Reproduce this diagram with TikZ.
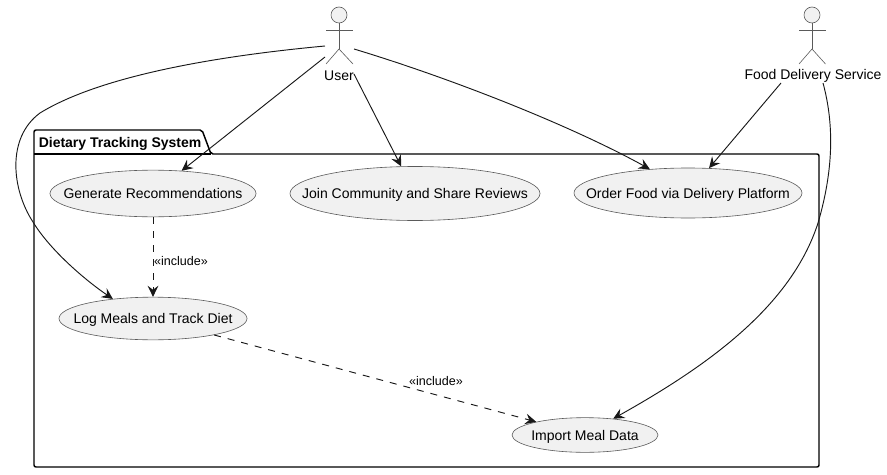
\documentclass[tikz,border=0pt]{standalone}
\usepackage{fontspec}
\setmainfont{Liberation Sans}
\usetikzlibrary{shapes.geometric,arrows.meta}
\definecolor{ink}{HTML}{181818}
\definecolor{thin}{HTML}{5A5A5A}
\definecolor{bubble}{HTML}{F1F1F1}
\newcommand{\uclabel}[1]{\makebox[0pt][c]{\rule[-3pt]{0pt}{13.5pt}#1}}
\tikzset{
  usecase/.style={ellipse,draw=thin,fill=bubble,line width=0.45pt,inner sep=0pt,font=\fontsize{10.5}{12}\selectfont},
  actorhead/.style={circle,draw=thin,fill=bubble,line width=0.45pt,inner sep=0pt,minimum size=12pt},
  actorline/.style={draw=thin,line width=0.45pt},
  actorname/.style={inner sep=0pt,font=\fontsize{10.5}{12}\selectfont},
  conn/.style={draw=ink,line width=0.7pt,-{Stealth[length=8.3pt,width=8pt,inset=3pt]}},
  incl/.style={conn,dash pattern=on 5.25pt off 5.25pt},
  incllabel/.style={inner sep=0pt,font=\fontsize{9.4}{11}\selectfont},
  frameline/.style={draw=black,line width=1.1pt,line join=round},
}
\begin{document}
\begin{tikzpicture}[x=0.75pt,y=-0.75pt]
\useasboundingbox (0,0) rectangle (887,474);
% package
\draw[frameline,fill=white,rounded corners=1.5pt] (34,154) -- (34,130) -- (202,130) -- (211,154) -- (819,154) -- (819,467) -- (34,467) -- cycle;
\draw[frameline] (34,154) -- (211,154);
\node[anchor=base west,inner sep=0pt,font=\fontsize{10.5}{12}\selectfont\bfseries] (pkg) at (38.5,147) {Dietary Tracking System};
% use cases
\node[usecase,minimum width=154.5pt,minimum height=35pt] (gen) at (153,193.5) {\uclabel{Generate Recommendations}};
\node[usecase,minimum width=187.5pt,minimum height=40.5pt] (join) at (415,193.5) {\uclabel{Join Community and Share Reviews}};
\node[usecase,minimum width=171pt,minimum height=37.5pt] (order) at (688,193) {\uclabel{Order Food via Delivery Platform}};
\node[usecase,minimum width=141pt,minimum height=32pt] (log) at (153,318.5) {\uclabel{Log Meals and Track Diet}};
\node[usecase,minimum width=109.5pt,minimum height=26pt] (imp) at (585,435) {\uclabel{Import Meal Data}};
% actor User
\node[actorhead] (userhead) at (339,15) {};
\draw[actorline] (userhead) -- (339,49) coordinate (userhip);
\draw[actorline] (326,30) -- (353,30);
\draw[actorline] (326,64) -- (userhip) -- (353,64);
\node[actorname,anchor=base] (user) at (339,81) {User};
% actor Food Delivery Service
\node[actorhead] (foodhead) at (812,15) {};
\draw[actorline] (foodhead) -- (812,49) coordinate (foodhip);
\draw[actorline] (799,30) -- (825.5,30);
\draw[actorline] (799,64) -- (foodhip) -- (825.5,64);
\node[actorname,anchor=base] (food) at (813,80) {Food Delivery Service};
% free ends
\coordinate (ua) at (325,46);
\coordinate (ub) at (325,57);
\coordinate (uc) at (354,74);
\coordinate (ud) at (354,49);
\coordinate (fa) at (781,83);
\coordinate (fb) at (823,83);
% connectors
\draw[conn] (ua) .. controls (250,53) and (110,70) .. (40,113) .. controls (6,138) and (12,190) .. (33,222) .. controls (50,250) and (85,280) .. (log.154);
\draw[conn] (ub) -- (gen);
\draw[conn] (uc) -- (join);
\draw[conn] (ud) .. controls (450,78) and (570,125) .. (order.148);
\draw[conn] (fa) -- (order);
\draw[conn] (fb) .. controls (833,120) and (835,165) .. (818,223) .. controls (790,310) and (700,370) .. (imp.30);
\draw[incl] (gen) -- (log);
\draw[incl] (log) -- (imp);
\node[incllabel,anchor=base] (lab1) at (181,265) {«include»};
\node[incllabel,anchor=base] (lab2) at (436,385) {«include»};
\end{tikzpicture}
\end{document}
